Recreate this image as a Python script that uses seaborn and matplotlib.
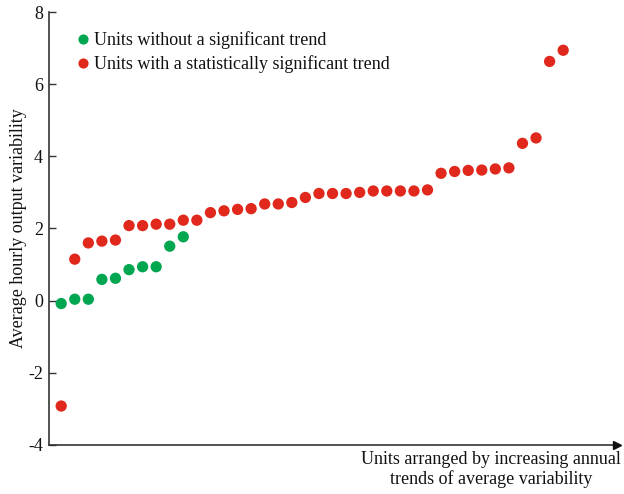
import numpy as np
import pandas as pd
import matplotlib
matplotlib.use("Agg")
import matplotlib.pyplot as plt
import seaborn as sns

# Average hourly output variability per unit, units ordered by annual trend
unit_rank_sig = list(range(38))
values_sig = [-2.92, 1.15, 1.60, 1.65, 1.68, 2.08, 2.08, 2.12, 2.12, 2.23,
              2.23, 2.44, 2.49, 2.53, 2.55, 2.68, 2.68, 2.72, 2.86, 2.97,
              2.97, 2.97, 3.00, 3.04, 3.04, 3.04, 3.04, 3.07, 3.53, 3.58,
              3.61, 3.62, 3.65, 3.68, 4.36, 4.51, 6.63, 6.94]
unit_rank_nonsig = list(range(10))
values_nonsig = [-0.08, 0.04, 0.04, 0.59, 0.62, 0.86, 0.94, 0.94, 1.51, 1.77]

label_nonsig = "Units without a significant trend"
label_sig = "Units with a statistically significant trend"
y_ticks = [-4, -2, 0, 2, 4, 6, 8]
y_tick_labels = ["-4", "-2", "0", "2", "4", "6", "8"]

GREEN = "#00a650"
RED = "#e0281c"
AXIS = "#333333"
TEXT = "#111111"
FS = 13

sns.set_theme(style="white")
plt.rcParams["font.family"] = ["Liberation Serif", "DejaVu Serif"]

df = pd.concat([
    pd.DataFrame({"rank": unit_rank_sig, "value": values_sig, "group": label_sig}),
    pd.DataFrame({"rank": unit_rank_nonsig, "value": values_nonsig, "group": label_nonsig}),
])

fig = plt.figure(figsize=(6.24, 4.94), dpi=100)
ax = fig.add_axes([0.0785, 0.0992, 0.9110, 0.8765])

sns.scatterplot(data=df, x="rank", y="value", hue="group",
                hue_order=[label_nonsig, label_sig],
                palette={label_nonsig: GREEN, label_sig: RED},
                s=66, linewidth=0, ax=ax, zorder=3)

ax.set_xlim(-0.9, 41.0)
ax.set_ylim(-4, 8)
ax.set_yticks(y_ticks)
ax.set_yticklabels(y_tick_labels, fontsize=FS, color=TEXT)
ax.set_xticks([])
ax.tick_params(axis="y", direction="in", length=5, width=1.0, color=AXIS, pad=4.3, left=True)

for side in ["top", "right"]:
    ax.spines[side].set_visible(False)
for side in ["left", "bottom"]:
    ax.spines[side].set_color(AXIS)
    ax.spines[side].set_linewidth(1.2)

# arrowhead at the end of the x axis
ax.plot([1.0], [0.0], marker=">", markersize=6, color=TEXT,
        transform=ax.transAxes, clip_on=False, zorder=5)

ax.set_xlabel("")
ax.set_ylabel("Average hourly output variability", fontsize=FS, color=TEXT, labelpad=0.5)
fig.text(0.787, 0.012, "Units arranged by increasing annual\ntrends of average variability",
         ha="center", va="bottom", fontsize=FS, color=TEXT, multialignment="center",
         linespacing=1.15)

leg = ax.legend(loc="upper left", bbox_to_anchor=(0.03, 0.972), frameon=False,
                fontsize=FS, handletextpad=0.05, labelspacing=0.33, borderaxespad=0,
                markerscale=0.9, handlelength=1.1)
for t in leg.get_texts():
    t.set_color(TEXT)

fig.savefig("out.png", dpi=100)
